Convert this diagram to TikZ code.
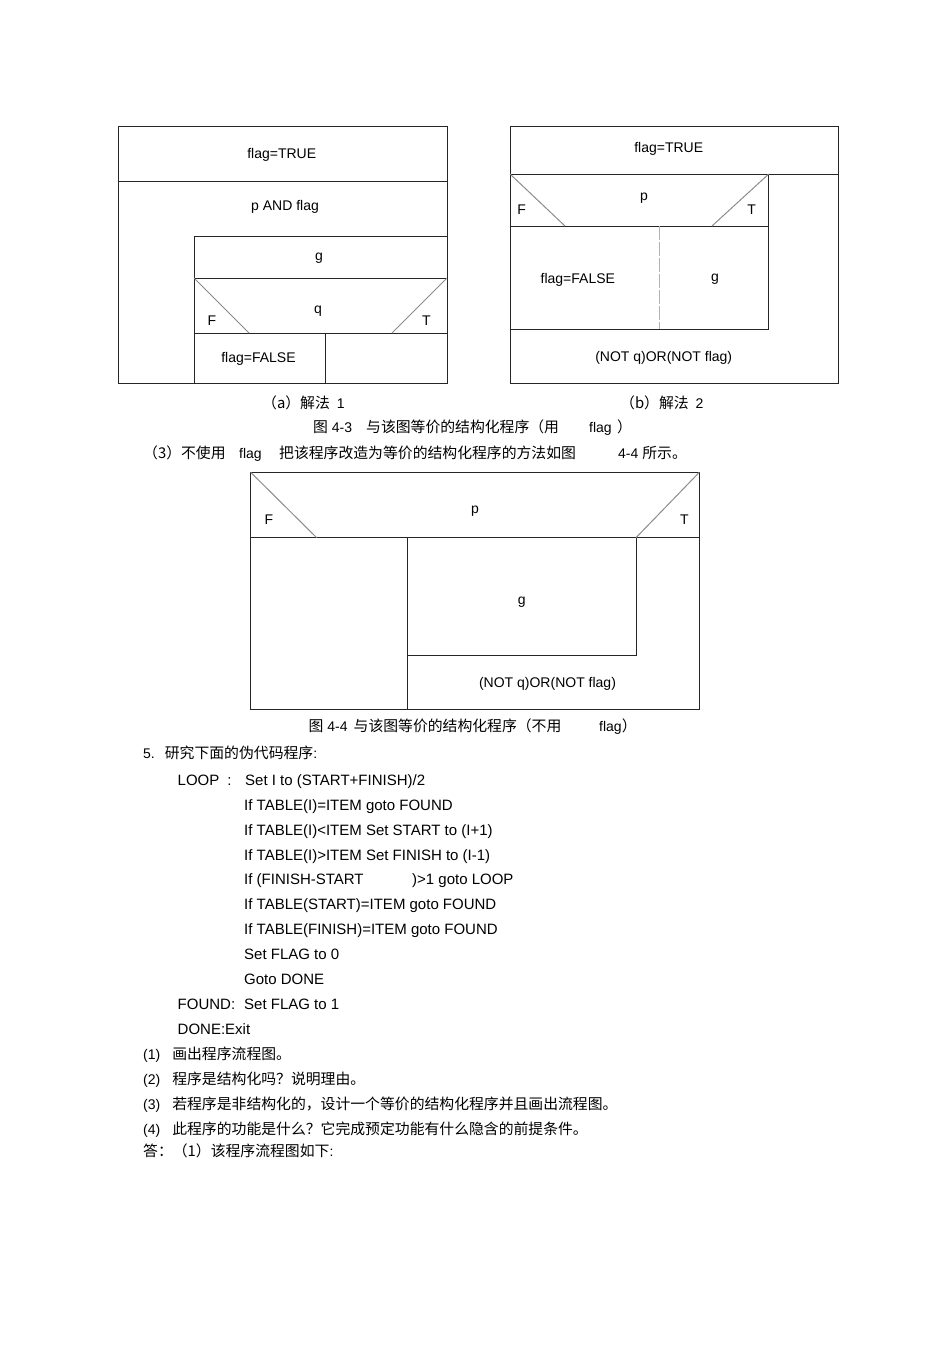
\documentclass[tikz,border=0pt]{standalone}
\usepackage{fontspec}
\setmainfont{Liberation Sans}
\newfontfamily\cjk[Scale=1.06]{Noto Sans CJK SC}
\usepackage{tikz}
\newcommand{\zh}[1]{{\cjk #1}}
\tikzset{
  nsbox/.style ={draw=black!85, line width=1pt},
  nsdiag/.style={draw=black!45, line width=1pt},
  nssplit/.style={draw=black!30, line width=1pt, dash pattern=on 14pt off 2pt},
  lbl/.style   ={font=\fontsize{14}{17}\selectfont, inner sep=0pt, anchor=base},
  txt/.style   ={lbl, anchor=base west},
  codeln/.style={txt, font=\fontsize{15}{18}\selectfont},
}

\begin{document}
\begin{tikzpicture}[x=1pt,y=-1pt]
  \useasboundingbox[fill=white] (0,0) rectangle (950,1345);
  %% figure 4-3 (a)
  \draw[nsbox] (118,126) rectangle (447,383);
  \draw[nsbox] (118,181) -- (447,181);
  \draw[nsbox] (194,383) -- (194,236) -- (447,236);
  \draw[nsbox] (194,278) -- (447,278);
  \draw[nsbox] (194,333) -- (447,333);
  \draw[nsbox] (325,333) -- (325,383);
  \draw[nsdiag] (194,278) -- (249,333);
  \draw[nsdiag] (447,278) -- (392,333);
  \node[lbl] (aflag) at (281.7,158) {flag=TRUE};
  \node[lbl] (apand) at (285,210.5) {p AND flag};
  \node[lbl] (ag)    at (319,260) {g};
  \node[lbl] (aq)    at (318,313) {q};
  \node[lbl] (af)    at (212,325) {F};
  \node[lbl] (at)    at (426.5,325) {T};
  \node[lbl] (afalse) at (258.5,362.5) {flag=FALSE};
  %% figure 4-3 (b)
  \draw[nsbox] (510,126) rectangle (838,383);
  \draw[nsbox] (510,174) -- (838,174);
  \draw[nsbox] (768.7,174) -- (768.7,329) -- (510,329);
  \draw[nsbox] (510,226) -- (768.7,226);
  \draw[nsdiag] (510,174) -- (565,226);
  \draw[nsdiag] (768.7,174) -- (712,226);
  \draw[nssplit] (659,226) -- (659,329);
  \node[lbl] (bflag)  at (668.7,152.7) {flag=TRUE};
  \node[lbl] (bp)     at (644,200) {p};
  \node[lbl] (bf)     at (521.7,214.3) {F};
  \node[lbl] (bt)     at (751.7,214.3) {T};
  \node[lbl] (bfalse) at (577.8,283.3) {flag=FALSE};
  \node[lbl] (bg)     at (715,281) {g};
  \node[lbl] (bnot)   at (663.7,361.7) {(NOT q)OR(NOT flag)};
  %% captions of figure 4-3
  \node[txt] (capa) at (262,408) {\zh{（a）解法}\hspace{7pt}1};
  \node[txt] (capb) at (620,408) {\zh{（b）解法}\hspace{7pt}2};
  \node[txt] (fig43) at (313,432) {\zh{图} 4-3\hspace{14pt}\zh{与该图等价的结构化程序（用}};
  \node[txt] (fig43f) at (589,432) {flag};
  \node[txt] (fig43e) at (617,432) {\zh{）}};
  \node[txt] (q3a) at (143,458) {\zh{（3）不使用}};
  \node[txt] (q3b) at (239,458) {flag};
  \node[txt] (q3c) at (279,458) {\zh{把该程序改造为等价的结构化程序的方法如图}};
  \node[txt] (q3d) at (618,458) {4-4 \zh{所示。}};
  %% figure 4-4
  \draw[nsbox] (250.7,472.3) rectangle (699.3,709.3);
  \draw[nsbox] (250.7,537.7) -- (699.3,537.7);
  \draw[nsbox] (407.3,537.7) -- (407.3,709.3);
  \draw[nsbox] (636,537.7) -- (636,655.7) -- (407.3,655.7);
  \draw[nsdiag] (250.7,472.3) -- (316.7,537.7);
  \draw[nsdiag] (699.3,472.3) -- (636,537.7);
  \node[lbl] (cp)   at (475,513.3) {p};
  \node[lbl] (cf)   at (269,524.3) {F};
  \node[lbl] (ct)   at (684.3,524.3) {T};
  \node[lbl] (cg)   at (521.7,604.3) {g};
  \node[lbl] (cnot) at (547.5,687.7) {(NOT q)OR(NOT flag)};
  \node[txt] (fig44)  at (308.5,731) {\zh{图} 4-4\hspace{6pt}\zh{与该图等价的结构化程序（不用}};
  \node[txt] (fig44f) at (599,731) {flag\zh{）}};
  %% question 5
  \node[txt] (q5) at (143,758) {5.\hspace{10pt}\zh{研究下面的伪代码程序}:};
  \node[codeln] (lloop)  at (177.5,785.5) {LOOP\hspace{8pt}:};
  \node[codeln] (c1) at (245,785.5) {Set I to (START+FINISH)/2};
  \node[codeln] (c2) at (244,810.4) {If TABLE(I)=ITEM goto FOUND};
  \node[codeln] (c3) at (244,835.2) {If TABLE(I)<ITEM Set START to (I+1)};
  \node[codeln] (c4) at (244,860.1) {If TABLE(I)>ITEM Set FINISH to (I-1)};
  \node[codeln] (c5) at (244,884.9) {If (FINISH-START};
  \node[codeln] (c5b) at (412,884.9) {)>1 goto LOOP};
  \node[codeln] (c6) at (244,909.8) {If TABLE(START)=ITEM goto FOUND};
  \node[codeln] (c7) at (244,934.6) {If TABLE(FINISH)=ITEM goto FOUND};
  \node[codeln] (c8) at (244,959.5) {Set FLAG to 0};
  \node[codeln] (c9) at (244,984.3) {Goto DONE};
  \node[codeln] (lfound) at (177.5,1009.2) {FOUND:};
  \node[codeln] (c10) at (244,1009.2) {Set FLAG to 1};
  \node[codeln] (ldone) at (177.5,1034) {DONE:Exit};
  %% sub-questions
  \node[txt] (s1) at (143,1059) {(1)\hspace{12pt}\zh{画出程序流程图。}};
  \node[txt] (s2) at (143,1084) {(2)\hspace{12pt}\zh{程序是结构化吗？说明理由。}};
  \node[txt] (s3) at (143,1109) {(3)\hspace{12pt}\zh{若程序是非结构化的，设计一个等价的结构化程序并且画出流程图。}};
  \node[txt] (s4) at (143,1134) {(4)\hspace{12pt}\zh{此程序的功能是什么？它完成预定功能有什么隐含的前提条件。}};
  \node[txt] (ans) at (143,1156.5) {\zh{答：（1）该程序流程图如下}:};
\end{tikzpicture}
\end{document}
